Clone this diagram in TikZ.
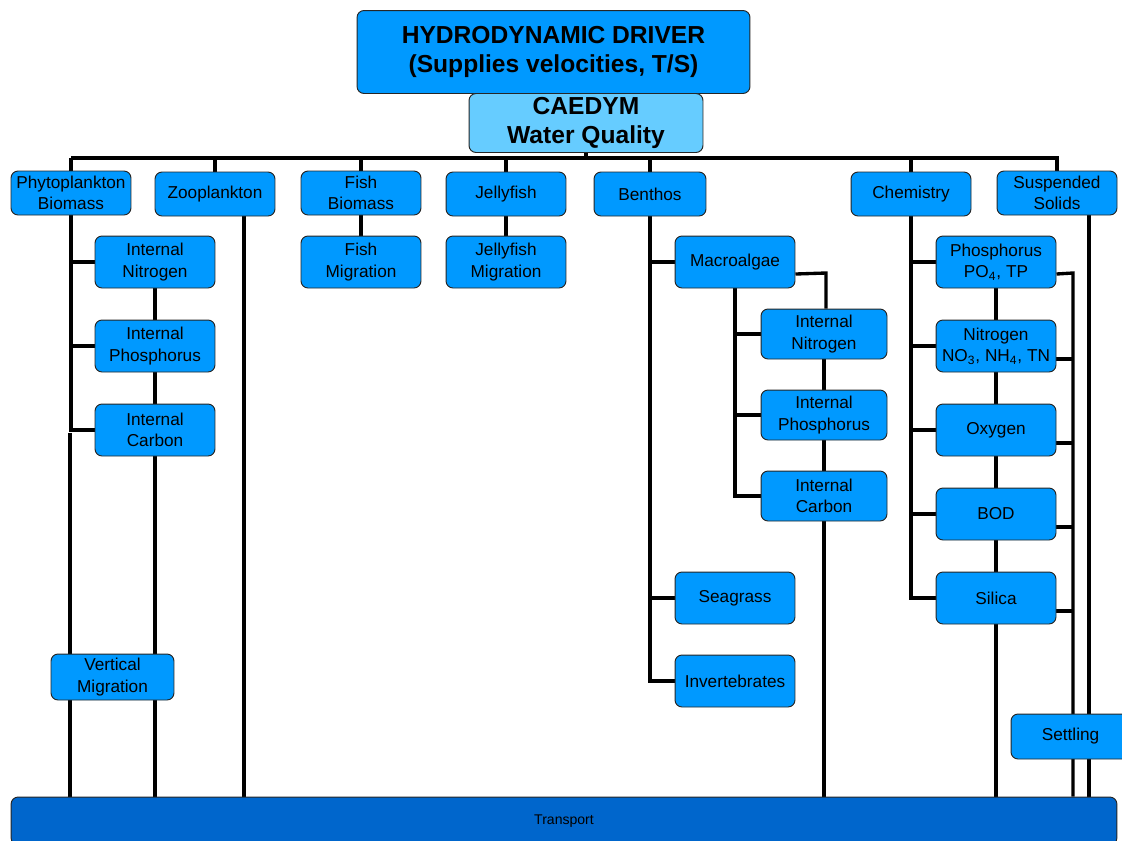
\documentclass[tikz,border=0pt]{standalone}
\usepackage{fontspec}
\setmainfont{Liberation Sans}
\usetikzlibrary{calc,backgrounds}

\definecolor{boxblue}{RGB}{0,153,255}
\definecolor{wqblue}{RGB}{102,204,255}
\definecolor{trblue}{RGB}{0,102,204}

\tikzset{
  box/.style={draw=black!85, line width=0.55pt, fill=boxblue, rounded corners=4pt,
    align=center, inner sep=0pt, minimum width=2.4cm, minimum height=0.88cm,
    font=\fontsize{9.8}{12.2}\selectfont},
  tall/.style={minimum height=1.04cm},
  link/.style={line width=2pt},
  feed/.style={line width=1.9pt}
}

\begin{document}
\begin{tikzpicture}[x=0.02cm, y=-0.02cm]
    \useasboundingbox (0,0) rectangle (1122,840);

    % driver and water quality model
    \node[box, minimum width=7.86cm, minimum height=1.66cm, font=\fontsize{14}{17}\selectfont\bfseries] (hydro) at (553.5,52) {HYDRODYNAMIC DRIVER\\(Supplies velocities, T/S)};
    \node[box, fill=wqblue, minimum width=4.68cm, minimum height=1.18cm, font=\fontsize{14}{17}\selectfont\bfseries] (caedym) at (586,123) {CAEDYM\\Water Quality};

    % top row of modules
    \node[box] (phyto) at (71,193) {Phytoplankton\\Biomass};
    \node[box] (zoo) at (215,194) {Zooplankton};
    \node[box] (fish) at (361,193) {Fish\\Biomass};
    \node[box] (jelly) at (506,194) {Jellyfish};
    \node[box, minimum width=2.24cm] (benthos) at (650,194) {Benthos};
    \node[box] (chem) at (911,194) {Chemistry};
    \node[box] (ss) at (1057,193) {Suspended\\Solids};

    % phytoplankton internals
    \node[box, tall] (pin) at (155,262) {Internal\\Nitrogen};
    \node[box, tall] (pip) at (155,346) {Internal\\Phosphorus};
    \node[box, tall] (pic) at (155,430) {Internal\\Carbon};
    \node[box, minimum width=2.46cm, minimum height=0.92cm] (vmig) at (112.5,677) {Vertical\\Migration};

    \node[box, tall] (fmig) at (361,262) {Fish\\Migration};
    \node[box, tall] (jmig) at (506,262) {Jellyfish\\Migration};

    % benthos
    \node[box, tall] (macro) at (735,262) {Macroalgae};
    \node[box, minimum width=2.52cm, minimum height=1.0cm] (min) at (824,334) {Internal\\Nitrogen};
    \node[box, minimum width=2.52cm, minimum height=1.0cm] (mip) at (824,415) {Internal\\Phosphorus};
    \node[box, minimum width=2.52cm, minimum height=1.0cm] (mic) at (824,496) {Internal\\Carbon};
    \node[box, tall] (seagrass) at (735,598) {Seagrass};
    \node[box, tall] (invert) at (735,681) {Invertebrates};

    % chemistry
    \node[box, tall] (phos) at (996,262) {Phosphorus\\PO\textsubscript{4}, TP};
    \node[box, tall] (nitro) at (996,346) {Nitrogen\\NO\textsubscript{3}, NH\textsubscript{4}, TN};
    \node[box, tall] (oxy) at (996,430) {Oxygen};
    \node[box, tall] (bod) at (996,514) {BOD};
    \node[box, tall] (silica) at (996,598) {Silica};

    \node[box, minimum width=2.38cm, minimum height=0.9cm] (settling) at (1070.5,736.5) {Settling};
    \node[box, fill=trblue, minimum width=22.12cm, minimum height=0.96cm, font=\fontsize{8}{10}\selectfont] (transport) at (564,821) {Transport};

    \begin{scope}[on background layer]
    % bus under CAEDYM
    \coordinate (busL) at (71,158);
    \draw[link] (caedym.south) -- (caedym.south |- busL);
    \draw[link] (busL) -| (ss.north);
    \foreach \m in {phyto,zoo,fish,jelly,benthos,chem}
        \draw[link] (\m.north) -- (\m.north |- busL);

    % phytoplankton
    \draw[link] (phyto.south) |- (pic.west);
    \foreach \m in {pin,pip} \draw[link] (phyto.south |- \m.west) -- (\m.west);
    \draw[feed] (pin.south) -- (pip.north);
    \draw[feed] (pip.south) -- (pic.north);
    \draw[feed] (pic.south) -- (pic.south |- transport.north);
    \coordinate (phylow) at (70,433);
    \draw[feed] (phylow) -- (phylow |- transport.north);
    \draw[feed] ($(zoo.south)+(29,0)$) -- ($(zoo.south |- transport.north)+(29,0)$);

    \draw[link] (fish.south) -- (fmig.north);
    \draw[link] (jelly.south) -- (jmig.north);

    % benthos
    \draw[link] (benthos.south) |- (invert.west);
    \foreach \m in {macro,seagrass} \draw[link] (benthos.south |- \m.west) -- (\m.west);
    \draw[link] (macro.south) |- (mic.west);
    \foreach \m in {min,mip} \draw[link] (macro.south |- \m.west) -- (\m.west);
    \coordinate (macroR) at (826,273);
    \draw[feed] ($(macro.east)+(0,12)$) -- (macroR) -- (macroR |- min.north);
    \draw[feed] (min.south) -- (mip.north);
    \draw[feed] (mip.south) -- (mic.north);
    \draw[feed] (mic.south) -- (mic.south |- transport.north);

    % chemistry
    \draw[link] (chem.south) |- (silica.west);
    \foreach \m in {phos,nitro,oxy,bod} \draw[link] (chem.south |- \m.west) -- (\m.west);
    \draw[feed] (phos.south) -- (nitro.north);
    \draw[feed] (nitro.south) -- (oxy.north);
    \draw[feed] (oxy.south) -- (bod.north);
    \draw[feed] (bod.south) -- (silica.north);
    \draw[feed] (silica.south) -- (silica.south |- transport.north);
    \coordinate (chemR) at (1073,273);
    \draw[feed] ($(phos.east)+(0,12)$) -- (chemR) -- (chemR |- transport.north);
    \foreach \m in {nitro,oxy,bod,silica}
        \draw[link] ($(\m.east)+(0,13)$) -- ($(\m.east -| chemR)+(0,13)$);

    % suspended solids
    \draw[feed] ($(ss.south)+(32,0)$) -- ($(ss.south |- transport.north)+(32,0)$);
    \end{scope}
\end{tikzpicture}
\end{document}
